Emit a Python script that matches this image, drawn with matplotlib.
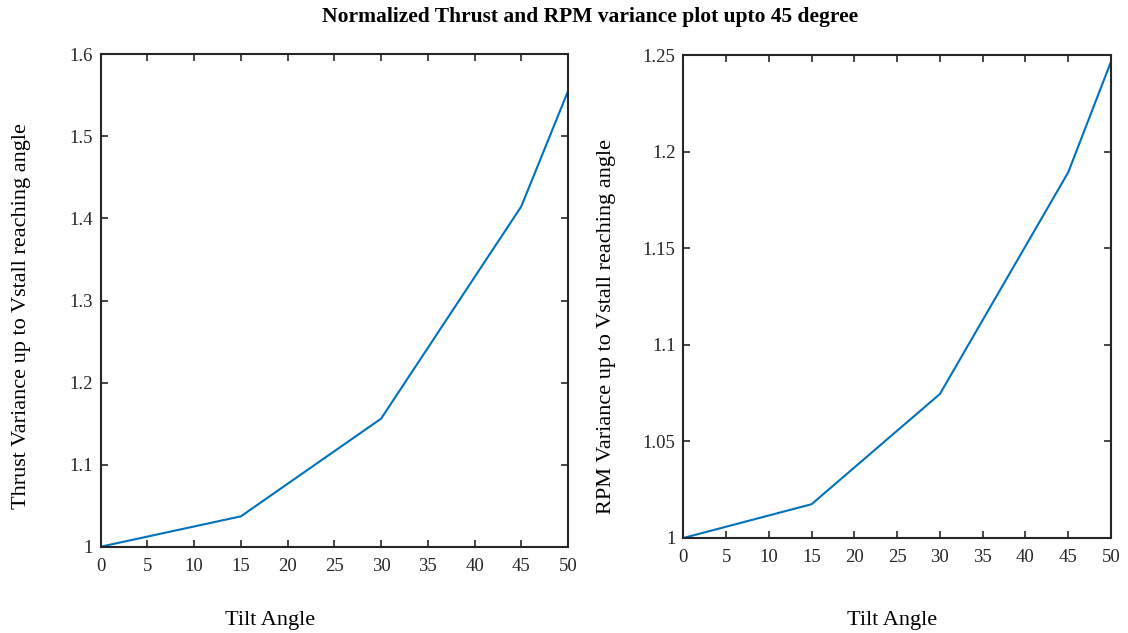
import matplotlib
matplotlib.use("Agg")
import matplotlib.pyplot as plt

tilt = [0, 15, 30, 45, 50]
thrust = [1.0, 1.037, 1.156, 1.4146, 1.555]
rpm = [1.0, 1.0175, 1.0746, 1.1894, 1.2467]
xticks = [0, 5, 10, 15, 20, 25, 30, 35, 40, 45, 50]
thrust_ticks = [1, 1.1, 1.2, 1.3, 1.4, 1.5, 1.6]
rpm_ticks = [1, 1.05, 1.1, 1.15, 1.2, 1.25]

plt.rcParams['font.family'] = ['Liberation Serif', 'DejaVu Serif']
W, H = 1128, 633
fig = plt.figure(figsize=(W/100, H/100), dpi=100)

def px_axes(l, t, r, b):
    return fig.add_axes([l/W, 1-b/H, (r-l)/W, (b-t)/H])

ax1 = px_axes(100.7, 54.3, 568, 546.7)
ax2 = px_axes(683.3, 55.3, 1111, 538)

line_color = '#0072BD'
for ax, y, yt, ylim in [(ax1, thrust, thrust_ticks, (1, 1.6)), (ax2, rpm, rpm_ticks, (1, 1.25))]:
    ax.plot(tilt, y, color=line_color, lw=1.5)
    ax.set_xlim(0, 50)
    ax.set_ylim(*ylim)
    ax.set_xticks(xticks)
    ax.set_xticklabels([str(v) for v in xticks])
    ax.set_yticks(yt)
    ax.set_yticklabels([('%g' % v) for v in yt])
    ax.tick_params(direction='in', top=True, right=True, length=5, width=1.2,
                   color='#262626', labelsize=13.5, labelcolor='#262626')
    ax.tick_params(axis='x', pad=8)
    ax.tick_params(axis='y', pad=5.5)
    for s in ax.spines.values():
        s.set_color('#262626')
        s.set_linewidth(1.5)

fig.text(590/W, 1-17/H, 'Normalized Thrust and RPM variance plot upto 45 degree',
         ha='center', va='center', fontsize=15.5, fontweight='bold')
fig.text(270/W, 1-620/H, 'Tilt Angle', ha='center', va='center', fontsize=16)
fig.text(892/W, 1-620/H, 'Tilt Angle', ha='center', va='center', fontsize=16)
fig.text(22/W, 1-316/H, 'Thrust Variance up to Vstall reaching angle', ha='center', va='center',
         rotation=90, fontsize=16)
fig.text(606/W, 1-326/H, 'RPM Variance up to Vstall reaching angle', ha='center', va='center',
         rotation=90, fontsize=16)

fig.savefig('out.png', dpi=100)
